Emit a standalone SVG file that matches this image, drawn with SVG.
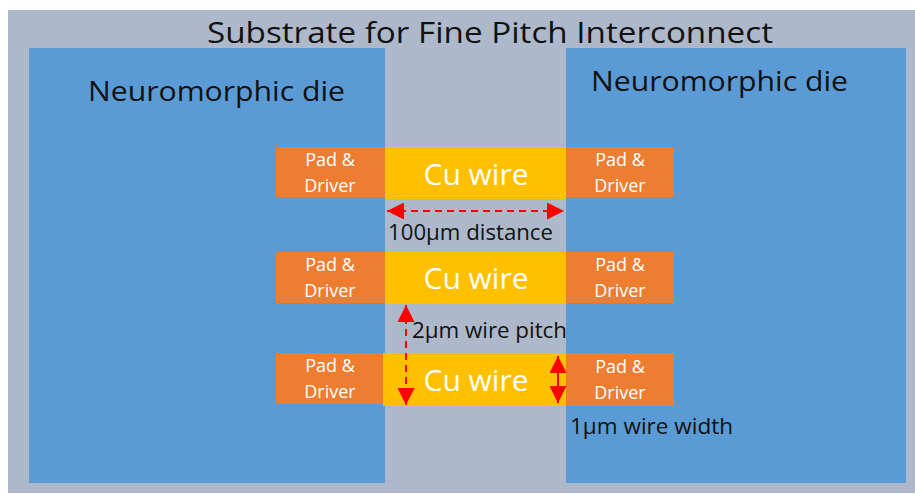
<svg xmlns="http://www.w3.org/2000/svg" width="915" height="495" viewBox="0 0 915 495">
<defs>
<marker id="ah" viewBox="0 0 16 16" refX="16" refY="8" markerWidth="17" markerHeight="17" markerUnits="userSpaceOnUse" orient="auto-start-reverse">
<path d="M0,0 L16,8 L0,16 Z" fill="#FF0000"/>
</marker>
<style>
.sub{fill:#ADB9CA}
.die{fill:#5B9BD5}
.pad{fill:#ED7D31}
.cu{fill:#FFC000}
.t{font-family:"Open Sans","Liberation Sans",sans-serif}
.pt{font-family:"Open Sans","Liberation Sans",sans-serif;font-size:18px;fill:#fff;text-anchor:middle}
.ct{font-family:"Open Sans","Liberation Sans",sans-serif;font-size:30px;fill:#fff;text-anchor:middle}
.lab{font-family:"Open Sans","Liberation Sans",sans-serif;font-size:21px;fill:#111}
.arr{stroke:#FF0000;stroke-width:2;fill:none}
.dash{stroke-dasharray:7,5}
</style>
</defs>
<rect width="915" height="495" fill="#ffffff"/>
<g id="substrate">
<rect class="sub" x="8" y="10" width="907" height="483"/>
<text class="t" x="490" y="43" font-size="30" fill="#111" text-anchor="middle" textLength="566" lengthAdjust="spacingAndGlyphs">Substrate for Fine Pitch Interconnect</text>
</g>
<g id="die-left">
<rect class="die" x="29" y="48" width="356" height="435"/>
<text class="t" x="88" y="101" font-size="27" fill="#111" textLength="257" lengthAdjust="spacingAndGlyphs">Neuromorphic die</text>
</g>
<g id="die-right">
<rect class="die" x="566" y="48" width="340" height="435"/>
<text class="t" x="591" y="91" font-size="27" fill="#111" textLength="257" lengthAdjust="spacingAndGlyphs">Neuromorphic die</text>
</g>
<g id="row1">
<rect class="pad" x="276" y="147" width="109" height="50"/>
<rect class="cu" x="385" y="147" width="181" height="52"/>
<rect class="pad" x="566" y="147" width="108" height="50"/>
<text class="pt" x="330" y="166">Pad &amp;</text>
<text class="pt" x="330" y="192">Driver</text>
<text class="ct" x="476" y="185">Cu wire</text>
<text class="pt" x="620" y="166">Pad &amp;</text>
<text class="pt" x="620" y="192">Driver</text>
</g>
<g id="row2">
<rect class="pad" x="276" y="252" width="109" height="51"/>
<rect class="cu" x="385" y="252" width="181" height="52"/>
<rect class="pad" x="566" y="252" width="108" height="51"/>
<text class="pt" x="330" y="271">Pad &amp;</text>
<text class="pt" x="330" y="297">Driver</text>
<text class="ct" x="476" y="289">Cu wire</text>
<text class="pt" x="620" y="271">Pad &amp;</text>
<text class="pt" x="620" y="297">Driver</text>
</g>
<g id="row3">
<rect class="pad" x="276" y="353" width="109" height="51"/>
<rect class="cu" x="383" y="353" width="183" height="53"/>
<rect class="pad" x="566" y="353" width="108" height="53"/>
<text class="pt" x="330" y="372">Pad &amp;</text>
<text class="pt" x="330" y="398">Driver</text>
<text class="ct" x="476" y="391">Cu wire</text>
<text class="pt" x="620" y="373">Pad &amp;</text>
<text class="pt" x="620" y="399">Driver</text>
</g>
<g id="connectors">
<line class="arr dash" x1="387" y1="211" x2="564" y2="211" marker-start="url(#ah)" marker-end="url(#ah)"/>
<line class="arr dash" x1="406" y1="305" x2="406" y2="405" marker-start="url(#ah)" marker-end="url(#ah)"/>
<line class="arr" x1="558" y1="356" x2="558" y2="403" marker-start="url(#ah)" marker-end="url(#ah)"/>
</g>
<g id="labels">
<text class="lab" x="388" y="240" textLength="165" lengthAdjust="spacingAndGlyphs">100µm distance</text>
<text class="lab" x="412" y="338" textLength="155" lengthAdjust="spacingAndGlyphs">2µm wire pitch</text>
<text class="lab" x="570" y="434" textLength="163" lengthAdjust="spacingAndGlyphs">1µm wire width</text>
</g>
</svg>
